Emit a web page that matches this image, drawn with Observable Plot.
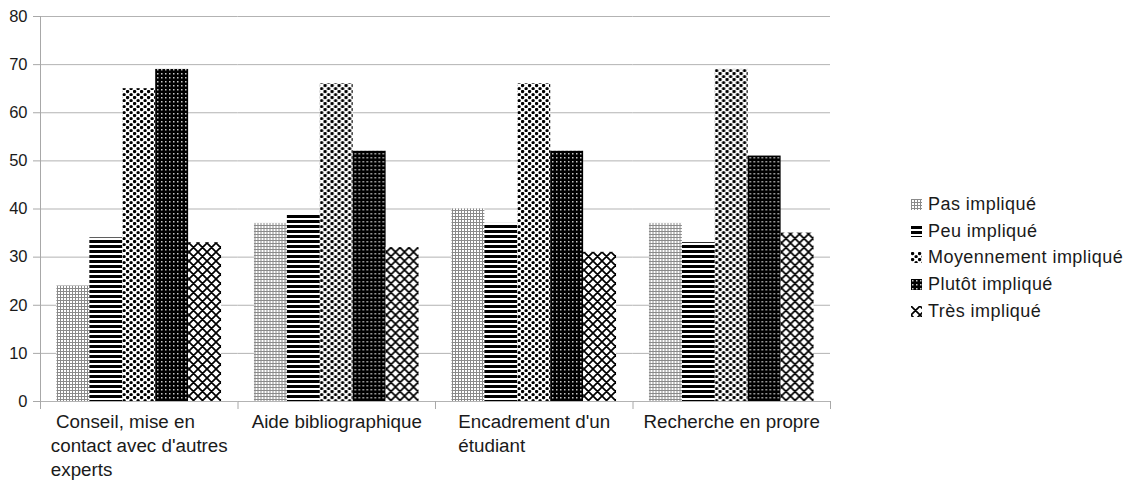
<!DOCTYPE html>
<html><head><meta charset="utf-8">
<script src="https://cdn.jsdelivr.net/npm/d3@7"></script>
<script src="https://cdn.jsdelivr.net/npm/@observablehq/plot@0.6"></script>
<style>
body{margin:0;background:#fff;font-family:"Liberation Sans",Arial,sans-serif;}
#wrap{position:relative;width:1129px;height:481px;overflow:hidden;}
#wrap > svg{position:absolute;left:0;top:0;}
#legend{position:absolute;left:911px;top:191px;}
.item{display:flex;align-items:center;height:26.8px;font-size:18px;color:#1a1a1a;letter-spacing:0.45px;white-space:nowrap;}
.item svg{margin-right:6px;flex:none}
svg text{white-space:pre}
</style></head><body>
<svg width="0" height="0" style="position:absolute;left:0;top:0">
<defs>
<pattern id="pat0" width="3" height="3" patternUnits="userSpaceOnUse"><rect width="3" height="3" fill="#fff"/><rect width="3" height="1" fill="#8a8a8a"/><rect width="1" height="3" fill="#8a8a8a"/></pattern>
<pattern id="pat1" width="5" height="5" patternUnits="userSpaceOnUse"><rect width="5" height="5" fill="#fff"/><rect width="5" height="3" fill="#000"/></pattern>
<pattern id="pat2" width="7" height="6" patternUnits="userSpaceOnUse"><rect width="7" height="6" fill="#fff"/><circle cx="1.6" cy="1.6" r="1.7" fill="#000"/><circle cx="5.1" cy="4.6" r="1.7" fill="#000"/></pattern>
<pattern id="pat3" width="4" height="4" patternUnits="userSpaceOnUse"><rect width="4" height="4" fill="#000"/><rect x="1" y="1" width="1.5" height="1.5" fill="#c8c8c8"/></pattern>
<pattern id="pat4" width="9" height="9" patternUnits="userSpaceOnUse"><rect width="9" height="9" fill="#fff"/><path d="M0,0L9,9M9,0L0,9M-1,1L1,-1M8,10L10,8M-1,8L1,10M8,-1L10,1" stroke="#000" stroke-width="1.7" fill="none"/></pattern>
</defs></svg>
<div id="wrap"><div id="legend"></div></div>
<script>
const categories = ["Conseil", "Aide", "Encadrement", "Recherche"];
const categoryLabels = [" Conseil, mise en\ncontact avec d'autres\nexperts", "Aide bibliographique", "Encadrement d'un\nétudiant", "Recherche en propre"];
const series = ["Pas impliqué", "Peu impliqué", "Moyennement impliqué", "Plutôt impliqué", "Très impliqué"];
const pasImplique = [24, 37, 40, 37];
const peuImplique = [34, 39, 37, 33];
const moyennementImplique = [65, 66, 66, 69];
const plutotImplique = [69, 52, 52, 51];
const tresImplique = [33, 32, 31, 35];
const yTicks = [0, 10, 20, 30, 40, 50, 60, 70, 80];
const patterns = ["url(#pat0)", "url(#pat1)", "url(#pat2)", "url(#pat3)", "url(#pat4)"];

const seriesValues = [pasImplique, peuImplique, moyennementImplique, plutotImplique, tresImplique];
const data = [];
categories.forEach((c, i) => series.forEach((s, j) => data.push({category: c, series: s, value: seriesValues[j][i], fill: patterns[j]})));

const W = 1129, H = 481, mL = 40, mR = 299, mT = 16, mB = 80;
const plotW = W - mL - mR, plotH = H - mT - mB;
const barStep = plotW / categories.length / (series.length + 1);

const ctx = document.createElement("canvas").getContext("2d");
const labelFont = 18.8;
ctx.font = `${labelFont}px "Liberation Sans"`;
const labelWidths = categoryLabels.map(t => d3.max(t.split("\n"), l => ctx.measureText(l).width));

const gray = "#a8a8a8";
const marks = [
  Plot.gridY(yTicks, {stroke: "#b3b3b3", strokeOpacity: 1}),
  Plot.barY(data, {fx: "category", x: "series", y: "value", fill: "fill"}),
  Plot.ruleX(categories, {fx: d => d, x: () => series[0], dx: -barStep, insetTop: plotH, insetBottom: -8, stroke: gray}),
  Plot.ruleX([categories[categories.length - 1]], {fx: d => d, x: () => series[series.length - 1], dx: barStep, insetTop: plotH, insetBottom: -8, stroke: gray}),
  Plot.ruleX([categories[0]], {fx: d => d, x: () => series[0], dx: -barStep, insetBottom: -8, stroke: gray}),
  Plot.axisY({ticks: yTicks, tickSize: 7, text: null, stroke: gray, label: null}),
  Plot.axisY({ticks: yTicks, tickSize: 0, tickPadding: 13, fontSize: 16.5, fill: "#1a1a1a", label: null}),
  ...categories.map((c, i) => Plot.text([c], {fx: d => d, frameAnchor: "bottom", text: () => categoryLabels[i], textAnchor: "start", lineAnchor: "top", dx: -labelWidths[i] / 2, dy: 9, fontSize: labelFont, lineHeight: 1.29, fill: "#1a1a1a"}))
];

const chart = Plot.plot({
  width: W, height: H,
  marginLeft: mL, marginRight: mR, marginTop: mT, marginBottom: mB,
  style: {fontFamily: '"Liberation Sans", Arial, sans-serif', background: "white", color: "#1a1a1a", overflow: "visible"},
  fx: {domain: categories, padding: 0, axis: null, round: false},
  x: {domain: series, paddingInner: 0, paddingOuter: 0.5, axis: null, round: false},
  y: {domain: [0, 80], axis: null},
  color: {type: "identity"},
  marks
});
const wrap = document.getElementById("wrap");
wrap.insertBefore(chart, wrap.firstChild);

const legend = document.getElementById("legend");
series.forEach((s, j) => {
  const row = document.createElement("div");
  row.className = "item";
  row.innerHTML = `<svg width="11" height="11"><rect width="11" height="11" fill="${patterns[j]}"/></svg><span>${s}</span>`;
  legend.appendChild(row);
});
</script>
</body></html>
